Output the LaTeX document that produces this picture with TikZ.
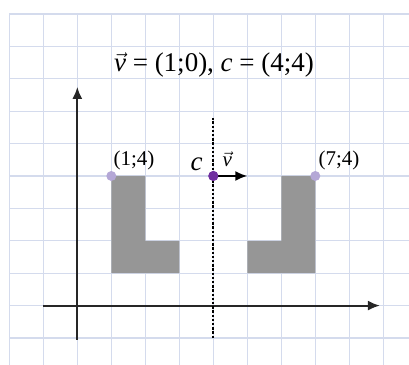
\documentclass[tikz,border=0pt]{standalone}
\usepackage{fontspec}
\setmainfont{Liberation Serif}
\usetikzlibrary{arrows.meta}
\definecolor{gridc}{RGB}{212,219,237}
\definecolor{shapec}{RGB}{150,150,150}
\definecolor{lightdot}{RGB}{180,167,214}
\definecolor{darkdot}{RGB}{112,48,160}
\tikzset{
  gridline/.style={draw=gridc, line width=1.2pt},
  axis/.style={draw=black!85, line width=1.9pt, -{Latex[length=12pt,width=10pt]}},
  vecarrow/.style={draw=black, line width=1.9pt, -{Latex[length=12pt,width=10pt]}},
  mirror/.style={draw=black, line width=1.7pt, dash pattern=on 2.4pt off 1.8pt},
  figure/.style={fill=shapec, draw=none},
  lbl/.style={inner sep=0pt, font=\fontsize{21}{24}\selectfont},
  big/.style={inner sep=0pt, font=\fontsize{27}{30}\selectfont},
  dotlight/.style={circle, fill=lightdot, inner sep=0pt, minimum size=10pt},
  dotdark/.style={circle, fill=darkdot, inner sep=0pt, minimum size=10pt},
}
\begin{document}
\begin{tikzpicture}[x=34pt, y=32.4pt]
\useasboundingbox (-2.274,-1.833) rectangle (9.756,9.432);
% grid
\foreach \i in {-2,...,9} \draw[gridline] (\i,-1.833) -- (\i,9);
\foreach \j in {-1,...,9} \draw[gridline] (-2,\j) -- (9.756,\j);
% figures
\fill[figure] (1,4) -- (2,4) -- (2,2) -- (3,2) -- (3,1) -- (1,1) -- cycle;
\fill[figure] (7,4) -- (6,4) -- (6,2) -- (5,2) -- (5,1) -- (7,1) -- cycle;
% axes
\coordinate (xs) at (-1,0);
\coordinate (xe) at (8.9,0);
\coordinate (ys) at (0,-1.06);
\coordinate (ye) at (0,6.75);
\draw[axis] (xs) -- (xe);
\draw[axis] (ys) -- (ye);
% mirror line
\coordinate (ms) at (4,-1);
\coordinate (me) at (4,5.8);
\draw[mirror] (ms) -- (me);
% vector
\coordinate (vend) at (5,4);
\node[dotdark] (c) at (4,4) {};
\draw[vecarrow] (c.center) -- (vend);
\node[dotdark] at (4,4) {};
% points
\node[dotlight] (p1) at (1,4) {};
\node[dotlight] (p7) at (7,4) {};
% labels
\node[lbl, anchor=south west] (l1) at (1.06,4.19) {(1;4)};
\node[lbl, anchor=south west] (l7) at (7.09,4.19) {(7;4)};
\node[big, anchor=base east] (lc) at (3.69,4.18) {\textit{c}};
\node[lbl, anchor=base west] (lv) at (4.27,4.28) {$\vec{\hbox{\textit{v}}}$};
\node[big] (title) at (4.02,7.43) {$\vec{\hbox{\textit{v}}}$ = (1;0), \textit{c} = (4;4)};
\end{tikzpicture}
\end{document}
